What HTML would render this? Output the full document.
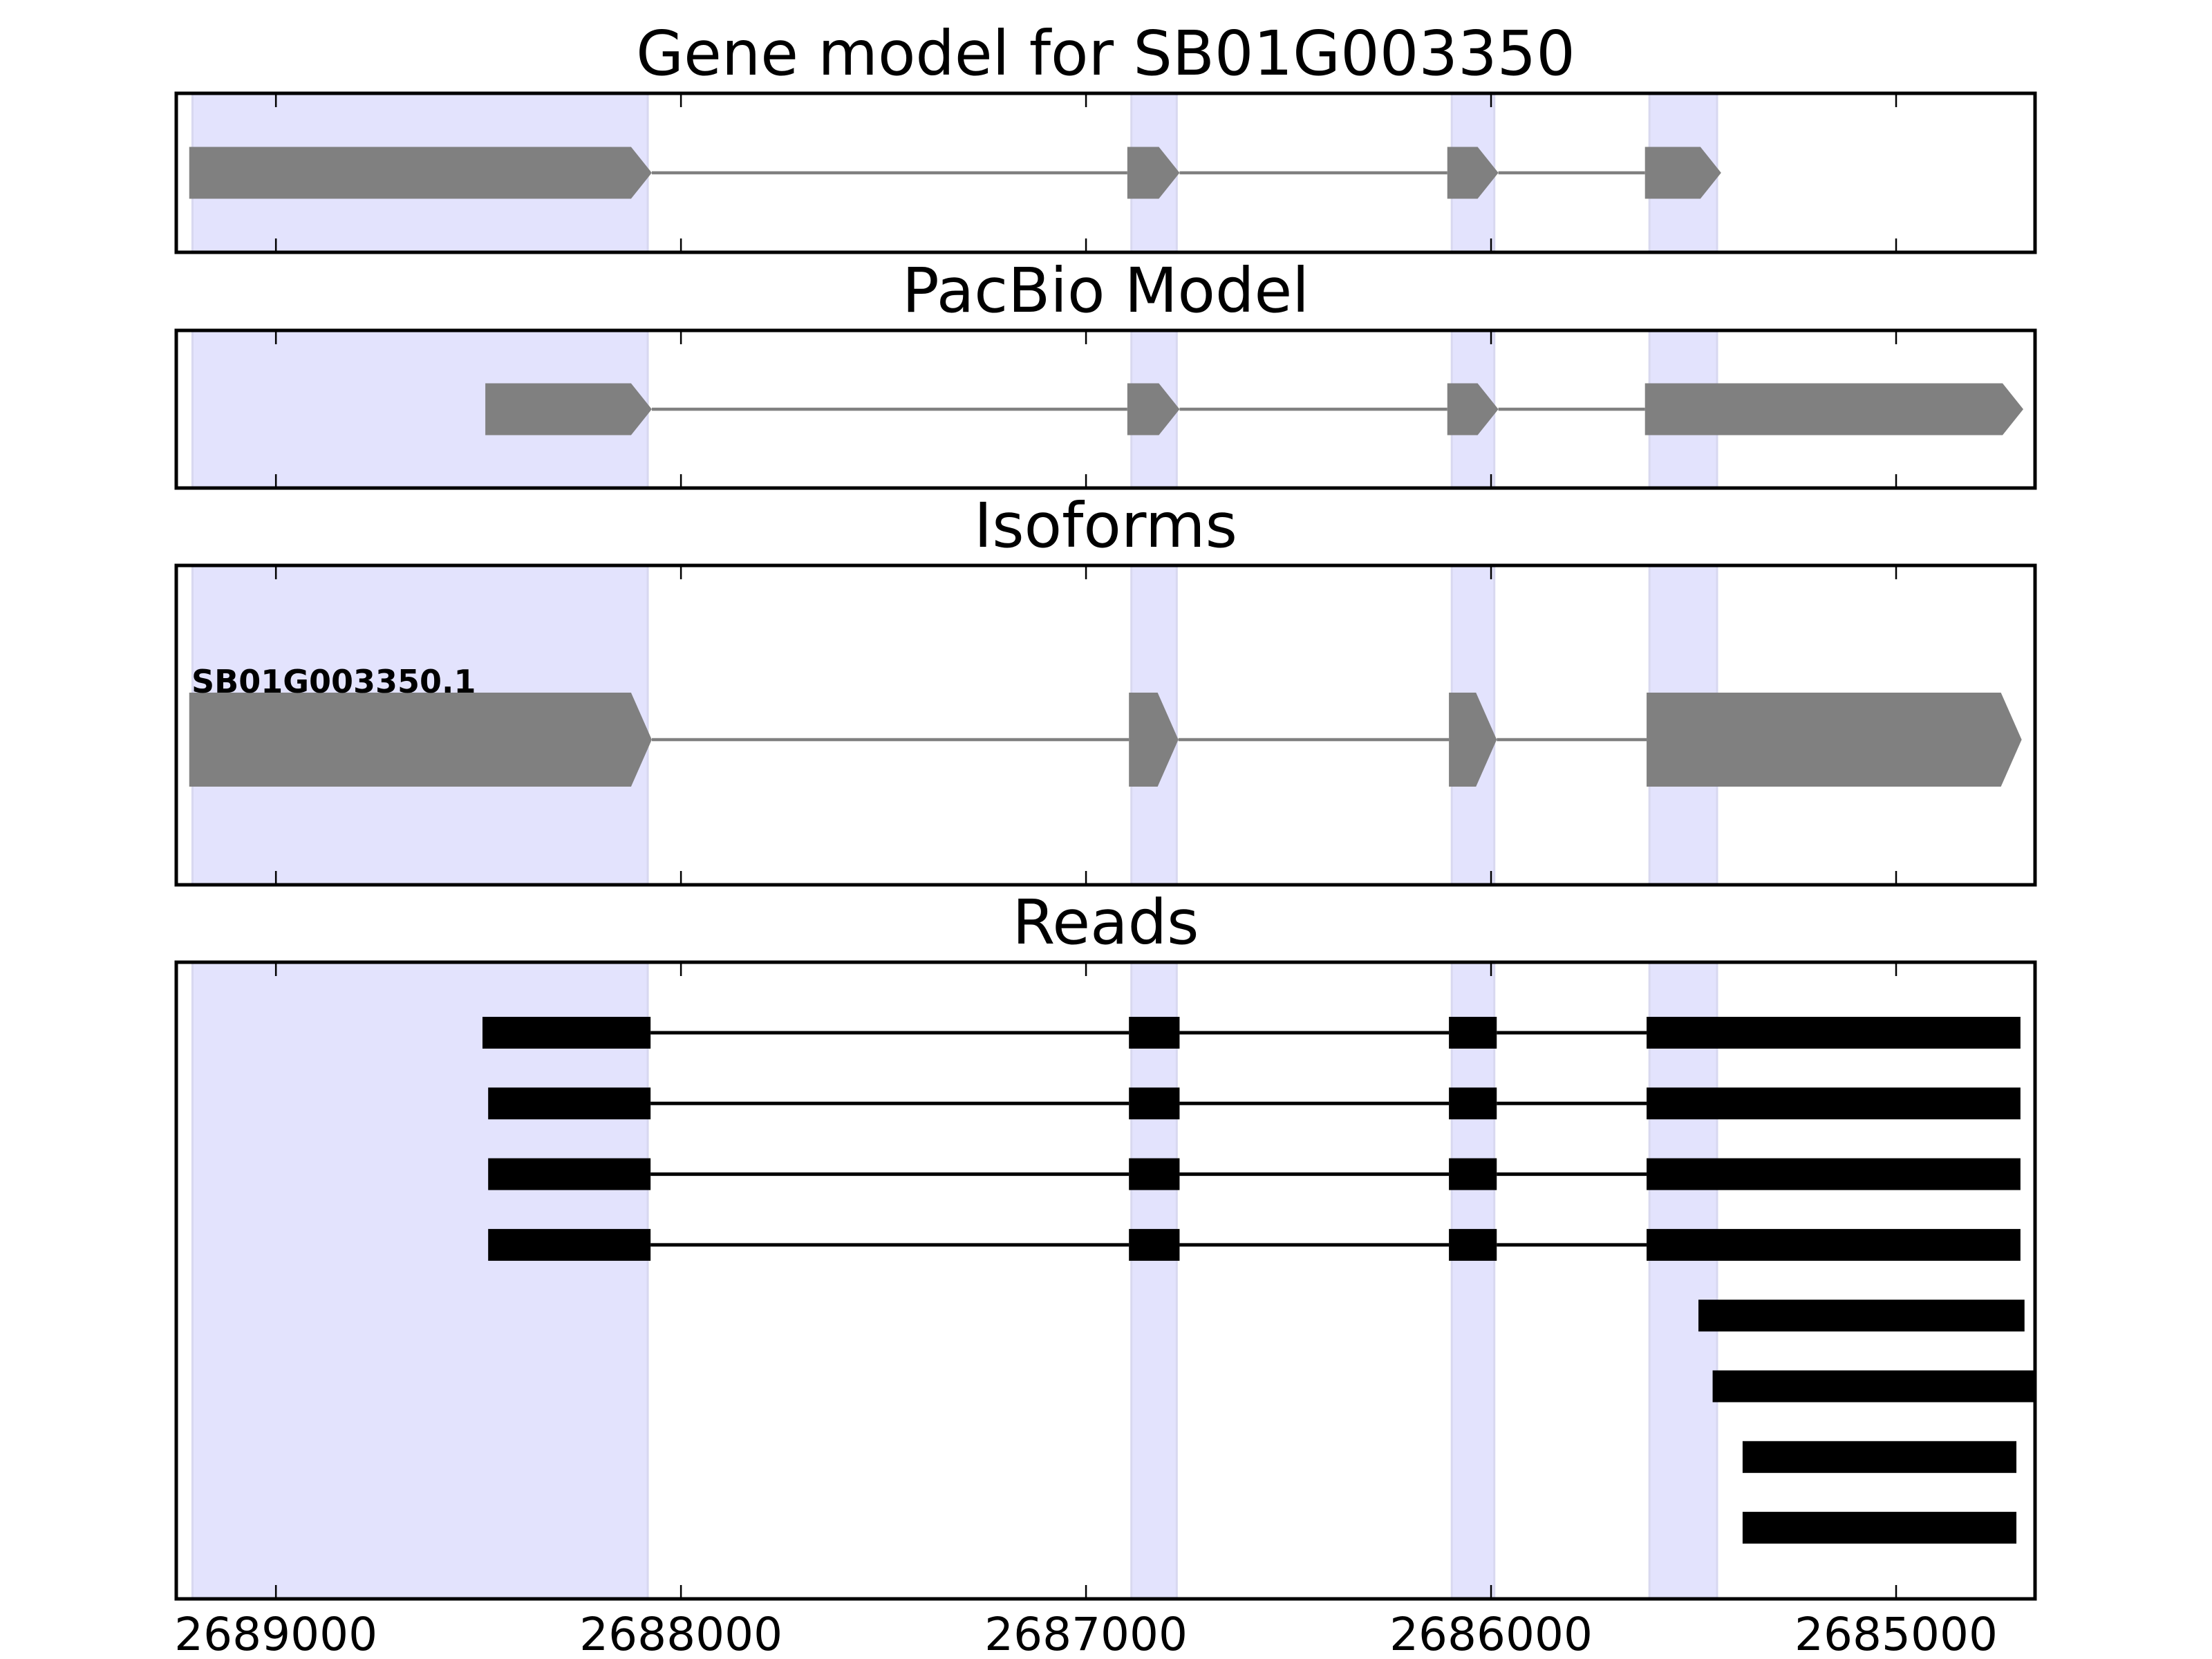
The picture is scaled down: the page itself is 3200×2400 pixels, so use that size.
<!DOCTYPE html>
<html><head><meta charset="utf-8"><style>
html,body{margin:0;padding:0;background:#fff;}
svg{display:block;}
text{font-family:"DejaVu Sans","Liberation Sans",sans-serif;}
</style></head><body>
<svg id="fig" width="3200" height="2400" viewBox="0 0 3200 2400" xmlns="http://www.w3.org/2000/svg"></svg>
<script>
// ---- data ----
const tickValues = [2689000, 2688000, 2687000, 2686000, 2685000];
const tickLabels = ["2689000", "2688000", "2687000", "2686000", "2685000"];
const xDomain = [2689246, 2684657];
const shadedStarts = [2689206, 2686888, 2686097, 2685609];
const shadedEnds   = [2688082, 2686776, 2685992, 2685442];
const geneExonStarts = [2689214, 2686898, 2686108, 2685620];
const geneExonEnds   = [2688072, 2686769, 2685982, 2685432];
const pacbioExonStarts = [2688483, 2686898, 2686108, 2685620];
const pacbioExonEnds   = [2688072, 2686769, 2685982, 2684686];
const isoExonStarts = [2689214, 2686894, 2686104, 2685616];
const isoExonEnds   = [2688072, 2686772, 2685986, 2684690];
const isoformName = "SB01G003350.1";
const readExonStarts = [
  [2688490, 2686894, 2686104, 2685616],
  [2688476, 2686894, 2686104, 2685616],
  [2688476, 2686894, 2686104, 2685616],
  [2688476, 2686894, 2686104, 2685616],
  [2685488],
  [2685453],
  [2685379],
  [2685379]
];
const readExonEnds = [
  [2688075, 2686769, 2685986, 2684693],
  [2688075, 2686769, 2685986, 2684693],
  [2688075, 2686769, 2685986, 2684693],
  [2688075, 2686769, 2685986, 2684693],
  [2684683],
  [2684600],
  [2684703],
  [2684703]
];

// ---- layout ----
const NS = "http://www.w3.org/2000/svg";
const svg = document.getElementById('fig');
const L = 255, R = 2944;
const panels = [
  {name:'gene-model-panel', title:'Gene model for SB01G003350', top:135, bottom:365},
  {name:'pacbio-model-panel', title:'PacBio Model', top:478, bottom:706},
  {name:'isoforms-panel', title:'Isoforms', top:818, bottom:1280},
  {name:'reads-panel', title:'Reads', top:1392, bottom:2313}
];
function x(v){ return L + (xDomain[0]-v)/(xDomain[0]-xDomain[1])*(R-L); }
function el(tag, attrs, parent){
  const e = document.createElementNS(NS, tag);
  for (const k in attrs) e.setAttribute(k, attrs[k]);
  (parent||svg).appendChild(e);
  return e;
}
const defs = el('defs', {});
const cp = el('clipPath', {id:'clipAx'}, defs);
el('rect', {x:L, y:0, width:R-L, height:2400}, cp);

function arrowExon(g, s, e, cy, h, name){
  const x0 = x(s), x1 = x(e);
  const a = Math.min(30, (x1-x0)*0.6);
  const p = el('polygon', {points:`${x0},${cy-h/2} ${x1-a},${cy-h/2} ${x1},${cy} ${x1-a},${cy+h/2} ${x0},${cy+h/2}`, fill:'#808080'}, g);
  
  
}

panels.forEach((p, pi) => {
  const g = el('g', {});
  
  
  const clipG = el('g', {'clip-path':'url(#clipAx)'}, g);
  for (let i = 0; i < shadedStarts.length; i++){
    const r = el('rect', {x:x(shadedStarts[i]), y:p.top, width:x(shadedEnds[i])-x(shadedStarts[i]), height:p.bottom-p.top, fill:'#e3e3fd', stroke:'#d8d8f0', 'stroke-width':3}, clipG);
    
    
  }
  const cy = (p.top+p.bottom)/2;
  if (pi === 0 || pi === 1 || pi === 2){
    const S = pi===0 ? geneExonStarts : pi===1 ? pacbioExonStarts : isoExonStarts;
    const E = pi===0 ? geneExonEnds : pi===1 ? pacbioExonEnds : isoExonEnds;
    const yc = pi===2 ? 1070 : cy;
    const h = pi===2 ? 136 : 75;
    for (let i = 0; i < S.length-1; i++){
      const ln = el('line', {x1:x(E[i]), x2:x(S[i+1]), y1:yc, y2:yc, stroke:'#808080', 'stroke-width':4.5}, clipG);
      
      
    }
    for (let i = 0; i < S.length; i++) arrowExon(clipG, S[i], E[i], yc, h, 'exon-' + (i+1));
    if (pi === 2){
      const t = el('text', {x:277, y:1002, 'font-size':46, 'font-weight':'bold', fill:'#000'}, g);
      t.textContent = isoformName;
      
      
    }
  } else {
    for (let r = 0; r < readExonStarts.length; r++){
      const yc = 1494 + r*102.3;
      const S = readExonStarts[r], E = readExonEnds[r];
      for (let i = 0; i < S.length-1; i++){
        const ln = el('line', {x1:x(E[i]), x2:x(S[i+1]), y1:yc, y2:yc, stroke:'#000', 'stroke-width':5}, clipG);
        
        
      }
      for (let i = 0; i < S.length; i++){
        const b = el('rect', {x:x(S[i]), y:yc-23, width:x(E[i])-x(S[i]), height:46, fill:'#000'}, clipG);
        
        
      }
    }
  }
  tickValues.forEach(v => {
    const tx = x(v);
    el('line', {x1:tx, x2:tx, y1:p.top, y2:p.top+20, stroke:'#000', 'stroke-width':2.5}, g);
    el('line', {x1:tx, x2:tx, y1:p.bottom, y2:p.bottom-20, stroke:'#000', 'stroke-width':2.5}, g);
  });
  const fr = el('rect', {x:L, y:p.top, width:R-L, height:p.bottom-p.top, fill:'none', stroke:'#000', 'stroke-width':5}, g);
  
  
  const t = el('text', {x:(L+R)/2, y:p.top-27, 'font-size':89, 'text-anchor':'middle', fill:'#000'}, g);
  t.textContent = p.title;
  
  
});
tickValues.forEach((v, i) => {
  const t = el('text', {x:x(v), y:2387, 'font-size':66, 'text-anchor':'middle', fill:'#000'});
  t.textContent = tickLabels[i];
  
  
});
</script>
</body></html>
